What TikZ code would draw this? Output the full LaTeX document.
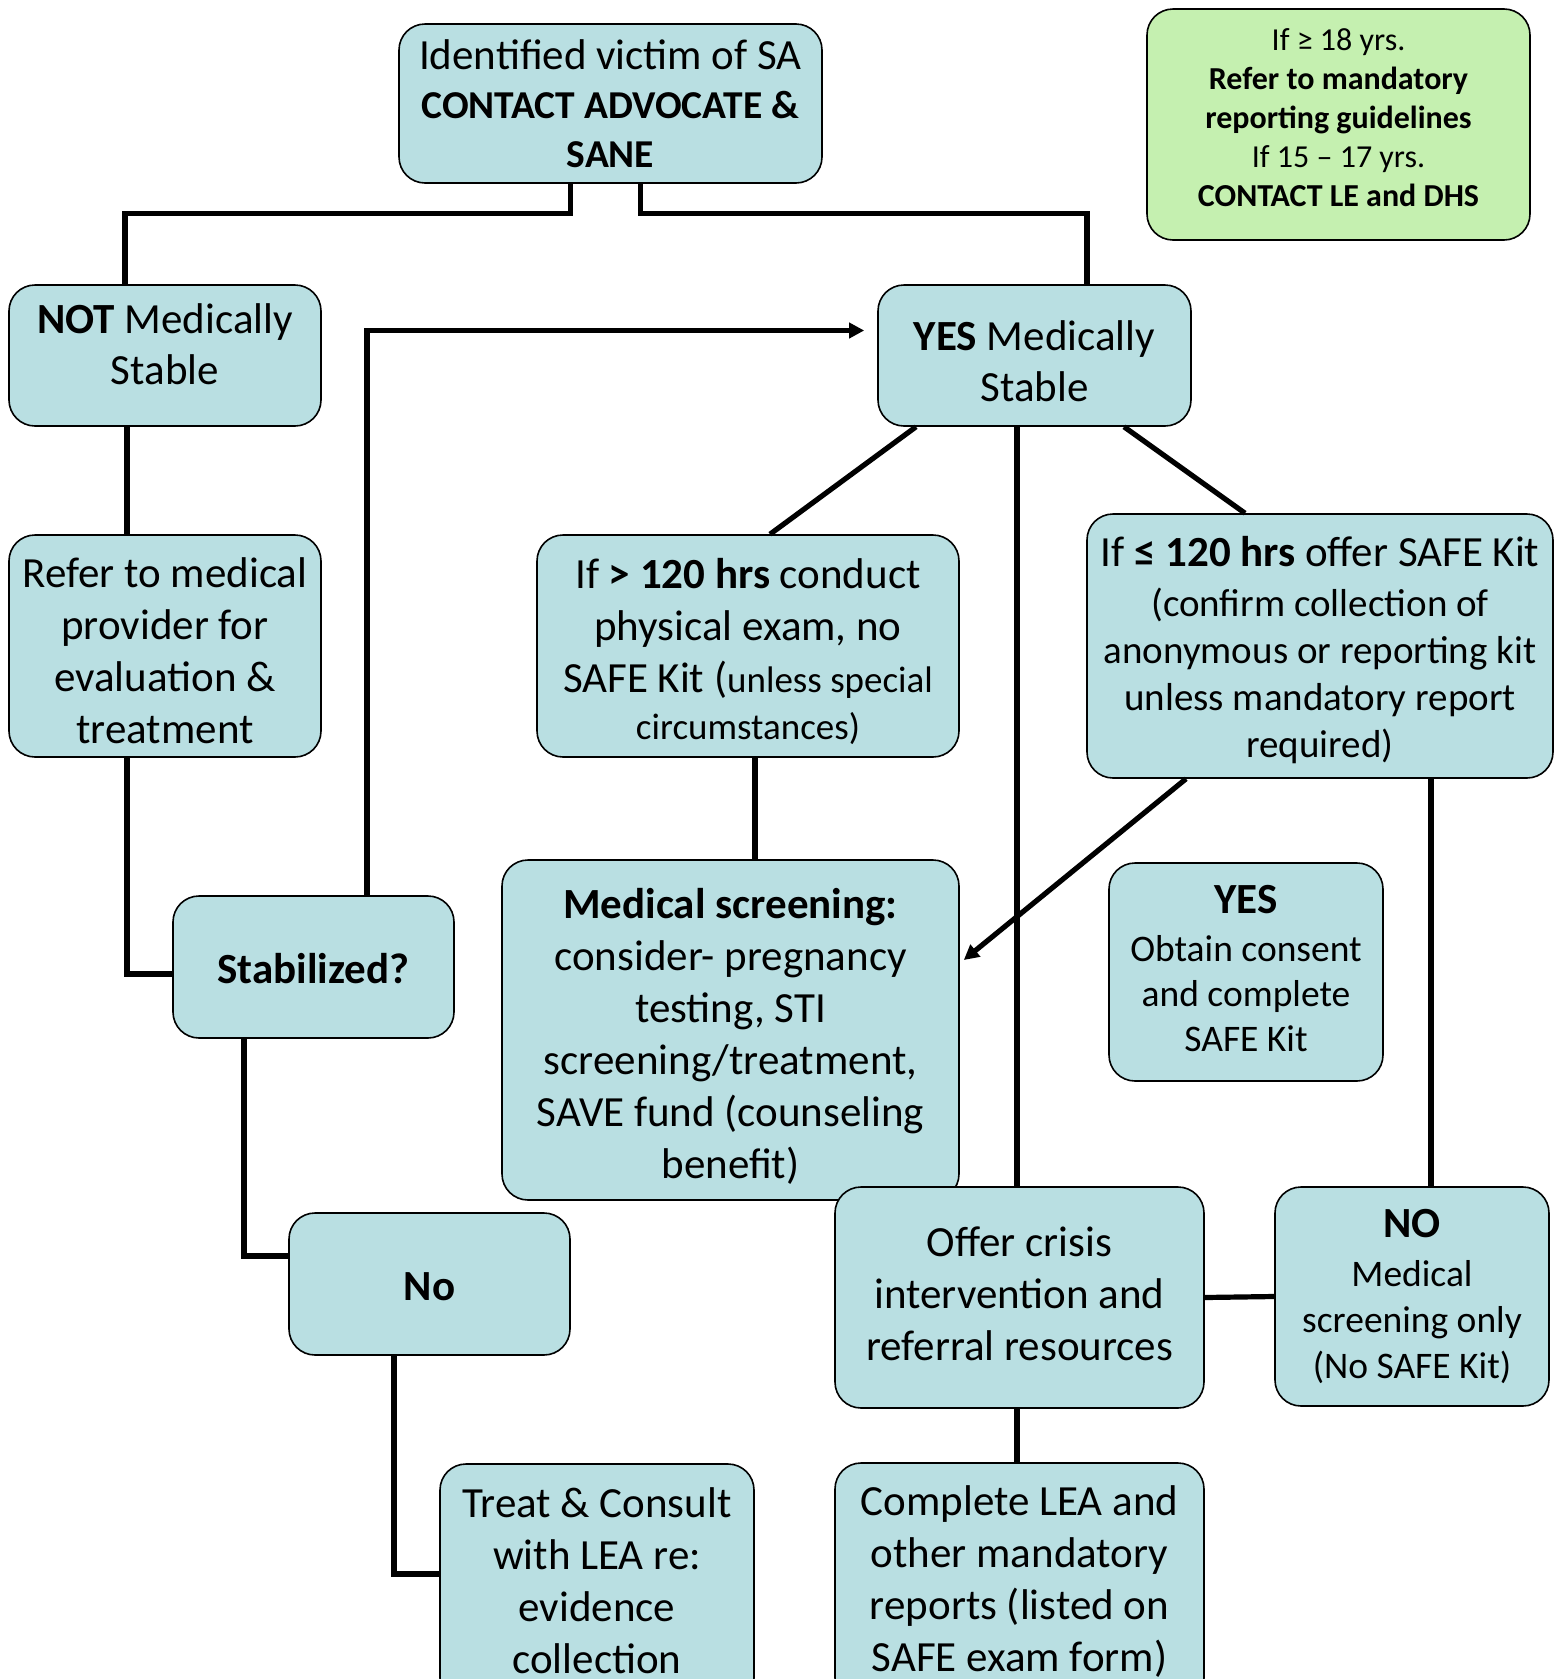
\documentclass[tikz,border=0pt]{standalone}
\usepackage{fontspec}
\setmainfont{Carlito}
\usetikzlibrary{arrows.meta,calc}
\definecolor{boxblue}{RGB}{185,223,226}
\definecolor{notegreen}{RGB}{197,240,176}
\newcommand\tfirst[1]{\rule{0pt}{\dimexpr1em+#1pt\relax}}
\newcommand\tlast[1]{\rule[\dimexpr-0.4em+#1pt\relax]{0pt}{\dimexpr0.4em-#1pt\relax}}
\tikzset{x=1pt,y=-1pt,
box/.style={draw, line width=1.6pt, rounded corners=26pt, fill=boxblue, align=center, inner sep=0pt,
font=\fontsize{43}{52}\selectfont},
wh/.style 2 args={minimum width=#1pt, minimum height=#2pt},
conn/.style={line width=5.2pt},
tip/.style={-{Triangle[length=15pt,width=15pt]}}}

\begin{document}
\begin{tikzpicture}
        \useasboundingbox (0,0) rectangle (1564,1679);
        \node[box, wh={423}{159}, font=\fontsize{39.5}{49}\selectfont] (top) at (610.5, 103.5)
            {\tfirst{3.5}{\fontsize{43}{49}\selectfont Identified victim of SA}\\ \textbf{CONTACT ADVOCATE \&}\\ \textbf{SANE}\tlast{3.5}};
        \node[box, wh={383}{231}, fill=notegreen, font=\fontsize{32}{39}\selectfont] (note) at (1338.5, 124.5)
            {\tfirst{-5.7}If ≥ 18 yrs.\\ \textbf{Refer to mandatory}\\ \textbf{reporting guidelines}\\ If 15 – 17 yrs.\\ \textbf{CONTACT LE and DHS}\tlast{-5.7}};
        \node[box, wh={312}{141}, font=\fontsize{43}{51}\selectfont] (notst) at (165, 355.5)
            {\tfirst{-9.7}\textbf{NOT} Medically\\ Stable\tlast{-9.7}};
        \node[box, wh={313}{141}, font=\fontsize{43}{51}\selectfont] (yesst) at (1034.5, 355.5)
            {\tfirst{7.4}\textbf{YES} Medically\\ Stable\tlast{7.4}};
        \node[box, wh={312}{222}] (refer) at (165, 646)
            {\tfirst{7}Refer to medical\\ provider for\\ evaluation \&\\ treatment\tlast{7}};
        \node[box, wh={422}{222}] (over) at (748, 646)
            {\tfirst{4.9}If \textbf{> 120 hrs} conduct\\ physical exam, no\\ SAFE Kit ({\fontsize{37}{44}\selectfont unless special}\\[-5pt]
            {\fontsize{37}{44}\selectfont circumstances)}\tlast{4.9}};
        \node[box, wh={466}{264}, font=\fontsize{39}{47}\selectfont] (under) at (1320, 646)
            {\tfirst{4.3}{\fontsize{43}{50}\selectfont If \textbf{≤ 120 hrs} offer SAFE Kit}\\[3pt] (confirm collection of\\
            anonymous or reporting kit\\ unless mandatory report\\ required)\tlast{4.3}};
        \node[box, wh={281}{142}] (stab) at (313.5, 967)
            {\tfirst{4}\textbf{Stabilized?}\tlast{4}};
        \node[box, wh={457}{340}] (screen) at (730.5, 1030)
            {\tfirst{5.7}\textbf{Medical screening:}\\ consider- pregnancy\\ testing, STI\\ screening/treatment,\\ SAVE fund (counseling\\ benefit)\tlast{5.7}};
        \node[box, wh={274}{218}, font=\fontsize{37.5}{45}\selectfont] (yeskit) at (1246, 972)
            {\tfirst{-0.5}{\fontsize{43}{48}\selectfont\textbf{YES}}\\[3pt] Obtain consent\\ and complete\\ SAFE Kit\tlast{-0.5}};
        \node[box, wh={281}{142}] (no) at (429.5, 1284)
            {\tfirst{3.8}\textbf{No}\tlast{3.8}};
        \node[box, wh={369}{221}] (crisis) at (1019.5, 1297.5)
            {\tfirst{-2.2}Offer crisis\\ intervention and\\ referral resources\tlast{-2.2}};
        \node[box, wh={274}{219}, font=\fontsize{37.5}{46}\selectfont] (nokit) at (1412, 1296.5)
            {\tfirst{0}{\fontsize{43}{48}\selectfont\textbf{NO}}\\[3pt] Medical\\ screening only\\ (No SAFE Kit)\tlast{0}};
        \node[box, wh={314}{240}] (treat) at (597, 1584)
            {\tfirst{-1.8}Treat \& Consult\\ with LEA re:\\ evidence\\ collection\tlast{-1.8}};
        \node[box, wh={369}{241}] (complete) at (1019.5, 1583.5)
            {\tfirst{-2.9}Complete LEA and\\ other mandatory\\ reports (listed on\\ SAFE exam form)\tlast{-2.9}};

        \draw[conn] ($(top.south)+(-40,0)$) -- ++(0,30) -| ($(notst.north)+(-40,0)$);
        \draw[conn] ($(top.south)+(30,0)$) -- ++(0,30) -| ($(yesst.north)+(52.5,0)$);
        \draw[conn] ($(notst.south)+(-38,0)$) -- ($(refer.north)+(-38,0)$);
        \draw[conn] ($(refer.south)+(-38,0)$) |- ($(stab.west)+(0,7)$);
        \draw[conn, tip] ($(stab.north)+(53.5,0)$) |- ($(yesst.west)+(-13,-25)$);
        \draw[conn] ($(stab.south)+(-69.5,0)$) |- ($(no.west)+(0,-28)$);
        \draw[conn] ($(no.south)+(-35.5,0)$) |- ($(treat.west)+(0,-10)$);
        \draw[conn] ($(yesst.south)+(-118.5,0)$) -- ($(over.north)+(22,0)$);
        \draw[conn] ($(yesst.south)+(89.5,0)$) -- ($(under.north)+(-75,0)$);
        \draw[conn] ($(yesst.south)+(-17.5,0)$) -- ($(crisis.north)+(-2.5,0)$);
        \draw[conn] ($(over.south)+(7,0)$) coordinate (o1) -- (o1 |- screen.north);
        \draw[conn, tip] ($(under.south)+(-134,0)$) -- ($(screen.east)+(4,-70)$);
        \draw[conn] ($(under.south)+(111,0)$) coordinate (u1) -- (u1 |- nokit.north);
        \draw[conn] ($(yeskit.east)+(0,2)$) -- ($(yeskit.east)+(0,2)$ -| u1);
        \draw[conn] (crisis.east) -- (nokit.west);
        \draw[conn] ($(crisis.south)+(-2.5,0)$) -- ($(complete.north)+(-2.5,0)$);
    \end{tikzpicture}
\end{document}
